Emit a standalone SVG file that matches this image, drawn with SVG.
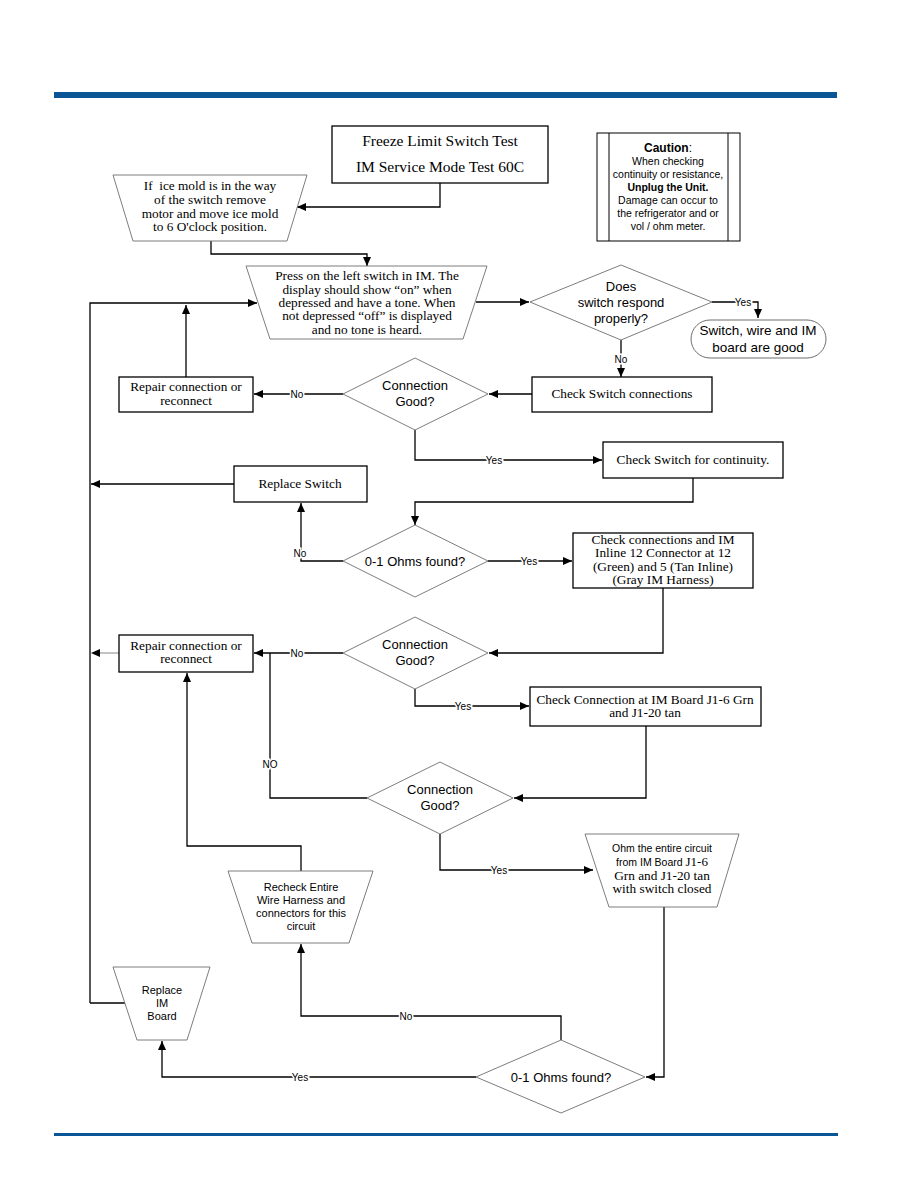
<svg xmlns="http://www.w3.org/2000/svg" width="918" height="1188" viewBox="0 0 918 1188">
<style>
.box{fill:#fff;stroke:#000;stroke-width:1.3}
.shape{fill:#fff;stroke:#6e6e6e;stroke-width:0.9}
.term{fill:#fff;stroke:#6e6e6e;stroke-width:1}
.con{fill:none;stroke:#000;stroke-width:1.3}
.gray{fill:none;stroke:#888;stroke-width:1}
.serif{font-family:"Liberation Serif","Times New Roman",serif;font-size:13.3px;fill:#000;text-anchor:middle}
.sans{font-family:"Liberation Sans",Arial,sans-serif;font-size:13px;fill:#000;text-anchor:middle}
.small{font-family:"Liberation Sans",Arial,sans-serif;font-size:10.5px;fill:#000;text-anchor:middle}
.lbl{font-family:"Liberation Sans",Arial,sans-serif;font-size:10px;fill:#000;text-anchor:middle;stroke:#fff;stroke-width:3;paint-order:stroke}
</style>
<defs>
<marker id="arr" markerUnits="userSpaceOnUse" markerWidth="10" markerHeight="8" refX="9" refY="4" orient="auto">
<path d="M0,0 L9,4 L0,8 Z" fill="#000"/>
</marker>
</defs>
<rect x="0" y="0" width="918" height="1188" fill="#fff"/>
<rect x="54" y="92" width="783" height="6" fill="#0a5596"/>
<rect x="54" y="1133" width="784" height="3" fill="#0a5596"/>

<g id="connectors">
<path class="con" d="M440,183 V207 H297" marker-end="url(#arr)"/>
<path class="con" d="M211,241 V254 H367 V266" marker-end="url(#arr)"/>
<path class="con" d="M90,1003 V303 H257" marker-end="url(#arr)"/>
<path class="con" d="M186,377 V305" marker-end="url(#arr)"/>
<path class="con" d="M476,302 H529" marker-end="url(#arr)"/>
<path class="con" d="M712,302 H758 V318" marker-end="url(#arr)"/>
<path class="con" d="M621,340 V377" marker-end="url(#arr)"/>
<path class="con" d="M532,394 H489" marker-end="url(#arr)"/>
<path class="con" d="M343,394 H254" marker-end="url(#arr)"/>
<path class="con" d="M415,430 V460 H602" marker-end="url(#arr)"/>
<path class="con" d="M693,478 V502 H415 V525" marker-end="url(#arr)"/>
<path class="con" d="M234,484 H91" marker-end="url(#arr)"/>
<path class="con" d="M343,561 H301 V503" marker-end="url(#arr)"/>
<path class="con" d="M488,561 H572" marker-end="url(#arr)"/>
<path class="con" d="M663,588 V653 H489" marker-end="url(#arr)"/>
<path class="con" d="M343,653 H254" marker-end="url(#arr)"/>
<path class="gray" d="M119,653 H96"/>
<path d="M91,653 L100,649 L100,657 Z" fill="#000"/>
<path class="con" d="M415,689 V706 H529" marker-end="url(#arr)"/>
<path class="con" d="M646,726 V798 H514" marker-end="url(#arr)"/>
<path class="con" d="M367,798 H270 V653"/>
<path class="con" d="M440,834 V870 H593" marker-end="url(#arr)"/>
<path class="con" d="M664,907 V1077 H646" marker-end="url(#arr)"/>
<path class="con" d="M561,1040 V1016 H301 V944" marker-end="url(#arr)"/>
<path class="con" d="M301,871 V846 H187 V673" marker-end="url(#arr)"/>
<path class="con" d="M476,1077 H162 V1041" marker-end="url(#arr)"/>
<path class="con" d="M90,1003 H125"/>
<text class="lbl" x="297" y="398">No</text>
<text class="lbl" x="743" y="306">Yes</text>
<text class="lbl" x="621" y="363">No</text>
<text class="lbl" x="494" y="464">Yes</text>
<text class="lbl" x="300" y="557">No</text>
<text class="lbl" x="529" y="565">Yes</text>
<text class="lbl" x="297" y="657">No</text>
<text class="lbl" x="463" y="710">Yes</text>
<text class="lbl" x="270" y="768">NO</text>
<text class="lbl" x="499" y="874">Yes</text>
<text class="lbl" x="406" y="1020">No</text>
<text class="lbl" x="300" y="1081">Yes</text>
</g>

<g id="title">
<rect class="box" x="332" y="126" width="216" height="57"/>
<text class="serif" style="font-size:15.5px" x="440" y="146">Freeze Limit Switch Test</text>
<text class="serif" style="font-size:15.5px" x="440" y="172">IM Service Mode Test 60C</text>
</g>

<g id="caution">
<rect x="597" y="133" width="143" height="108" fill="#fff" stroke="#000" stroke-width="1"/>
<line x1="609" y1="133" x2="609" y2="241" stroke="#000" stroke-width="1"/>
<line x1="728" y1="133" x2="728" y2="241" stroke="#000" stroke-width="1"/>
<text class="small" x="668" y="152" style="font-size:12px"><tspan font-weight="bold">Caution</tspan>:</text>
<text class="small" x="668" y="165">When checking</text>
<text class="small" x="668" y="178">continuity or resistance,</text>
<text class="small" x="668" y="191" style="font-weight:bold">Unplug the Unit.</text>
<text class="small" x="668" y="204">Damage can occur to</text>
<text class="small" x="668" y="217">the refrigerator and or</text>
<text class="small" x="668" y="230">vol / ohm meter.</text>
</g>

<g id="icemold">
<polygon class="shape" points="113,175 307,175 287,241 133,241"/>
<text class="serif" x="210" y="190">If&#160; ice mold is in the way</text>
<text class="serif" x="210" y="204">of the switch remove</text>
<text class="serif" x="210" y="218">motor and move ice mold</text>
<text class="serif" x="210" y="231">to 6 O'clock position.</text>
</g>

<g id="press">
<polygon class="shape" points="246,266 487,266 463,339 270,339"/>
<text class="serif" x="367" y="280">Press on the left switch in IM. The</text>
<text class="serif" x="367" y="294">display should show “on” when</text>
<text class="serif" x="367" y="307">depressed and have a tone. When</text>
<text class="serif" x="367" y="320">not depressed “off” is displayed</text>
<text class="serif" x="367" y="334">and no tone is heard.</text>
</g>

<g id="respond">
<polygon class="shape" points="530,302 621,265 712,302 621,340"/>
<text class="sans" x="621" y="291">Does</text>
<text class="sans" x="621" y="307">switch respond</text>
<text class="sans" x="621" y="323">properly?</text>
</g>

<g id="good">
<rect class="term" x="691" y="320" width="135" height="38" rx="19" ry="19"/>
<text class="sans" x="758" y="335" style="font-size:13.5px">Switch, wire and IM</text>
<text class="sans" x="758" y="352" style="font-size:13.5px">board are good</text>
</g>

<g id="checkconn">
<rect class="box" x="532" y="377" width="180" height="35"/>
<text class="serif" x="622" y="398">Check Switch connections</text>
</g>

<g id="conngood1">
<polygon class="shape" points="343,394 415,358 488,394 415,430"/>
<text class="sans" x="415" y="390">Connection</text>
<text class="sans" x="415" y="406">Good?</text>
</g>

<g id="repair1">
<rect class="box" x="119" y="377" width="134" height="35"/>
<text class="serif" x="186" y="391">Repair connection or</text>
<text class="serif" x="186" y="405">reconnect</text>
</g>

<g id="continuity">
<rect class="box" x="603" y="442" width="180" height="36"/>
<text class="serif" x="693" y="464">Check Switch for continuity.</text>
</g>

<g id="replaceswitch">
<rect class="box" x="234" y="466" width="133" height="36"/>
<text class="serif" x="300" y="488">Replace Switch</text>
</g>

<g id="ohms1">
<polygon class="shape" points="343,561 415,525 488,561 415,597"/>
<text class="sans" x="415" y="566">0-1 Ohms found?</text>
</g>

<g id="inline">
<rect class="box" x="573" y="533" width="180" height="55"/>
<text class="serif" x="663" y="544">Check connections and IM</text>
<text class="serif" x="663" y="557">Inline 12 Connector at 12</text>
<text class="serif" x="663" y="571">(Green) and 5 (Tan Inline)</text>
<text class="serif" x="663" y="584">(Gray IM Harness)</text>
</g>

<g id="conngood2">
<polygon class="shape" points="343,653 415,617 488,653 415,689"/>
<text class="sans" x="415" y="649">Connection</text>
<text class="sans" x="415" y="665">Good?</text>
</g>

<g id="repair2">
<rect class="box" x="119" y="635" width="134" height="37"/>
<text class="serif" x="186" y="650">Repair connection or</text>
<text class="serif" x="186" y="663">reconnect</text>
</g>

<g id="imboard">
<rect class="box" x="530" y="687" width="231" height="39"/>
<text class="serif" x="645" y="704">Check Connection at IM Board J1-6 Grn</text>
<text class="serif" x="645" y="717">and J1-20 tan</text>
</g>

<g id="conngood3">
<polygon class="shape" points="367,798 440,762 513,798 440,834"/>
<text class="sans" x="440" y="794">Connection</text>
<text class="sans" x="440" y="810">Good?</text>
</g>

<g id="ohmcircuit">
<polygon class="shape" points="585,834 739,834 717,907 609,907"/>
<text class="small" x="662" y="852">Ohm the entire circuit</text>
<text class="small" x="662" y="866">from IM Board <tspan style="font-family:'Liberation Serif',serif;font-size:13px">J1-6</tspan></text>
<text class="serif" x="662" y="880">Grn and J1-20 tan</text>
<text class="serif" x="662" y="893">with switch closed</text>
</g>

<g id="recheck">
<polygon class="shape" points="228,871 373,871 349,943 252,943"/>
<text class="small" x="301" y="891" style="font-size:11px">Recheck Entire</text>
<text class="small" x="301" y="904" style="font-size:11px">Wire Harness and</text>
<text class="small" x="301" y="917" style="font-size:11px">connectors for this</text>
<text class="small" x="301" y="930" style="font-size:11px">circuit</text>
</g>

<g id="replaceim">
<polygon class="shape" points="113,967 210,967 187,1040 137,1040"/>
<text class="small" x="162" y="994" style="font-size:11px">Replace</text>
<text class="small" x="162" y="1007" style="font-size:11px">IM</text>
<text class="small" x="162" y="1020" style="font-size:11px">Board</text>
</g>

<g id="ohms2">
<polygon class="shape" points="476,1077 561,1040 645,1077 561,1113"/>
<text class="sans" x="561" y="1082">0-1 Ohms found?</text>
</g>
</svg>
